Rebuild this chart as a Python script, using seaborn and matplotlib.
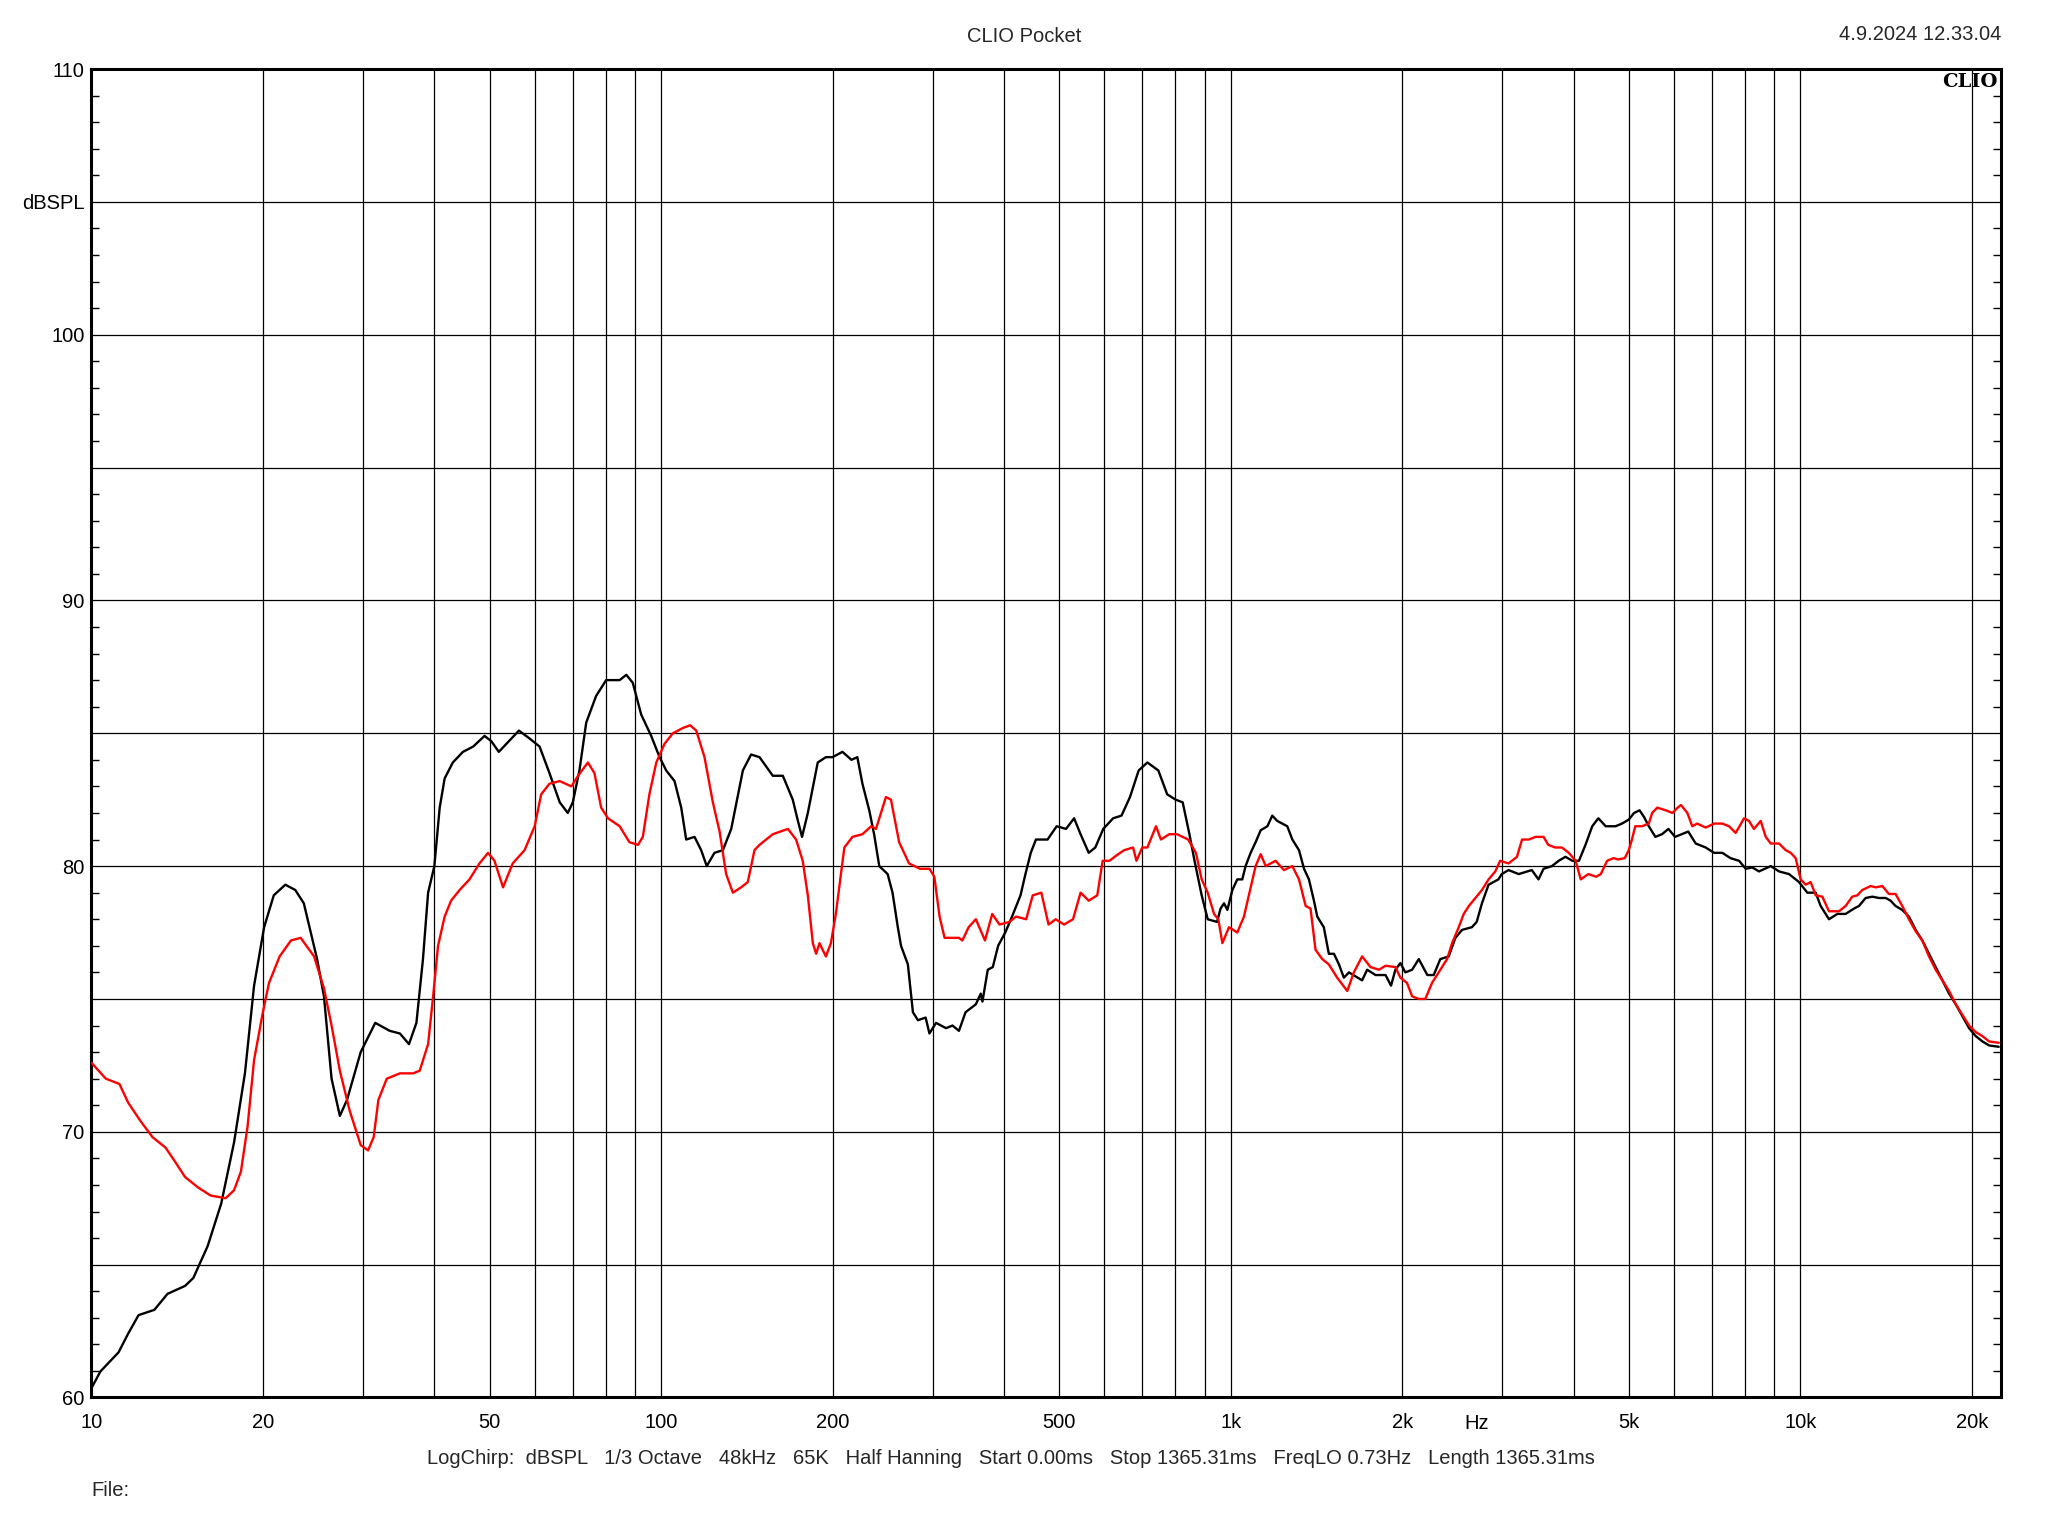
import numpy as np
import pandas as pd
import matplotlib
matplotlib.use("Agg")
import matplotlib.pyplot as plt
import seaborn as sns

# ---------------- data ----------------
black_freq = [10, 10.37, 11.16, 11.6, 12.1, 12.9, 13.6, 14.6, 15.1, 16.0, 16.9, 17.8, 18.6, 19.3, 20.1, 20.9,
              21.9, 22.8, 23.6, 24.9, 25.6, 26.4, 27.3, 28.1, 29.7, 31.5, 33.4, 34.8, 36.1, 37.2, 38.2, 39.0,
              40.0, 40.87, 41.7, 43.1, 44.9, 46.8, 49.0, 50.36, 51.9, 53.5, 56.3, 58.8, 61.2, 63.7, 66.4, 68.6,
              70.0, 71.9, 73.9, 76.9, 80.1, 84.6, 86.9, 89.2, 92.3, 96.1, 99.4, 102.1, 105.6, 108.5, 110.7,
              114.5, 117.6, 120.3, 124.1, 128.4, 132.8, 139.2, 143.9, 148.9, 157.1, 163.6, 170.3, 173.9, 176.8,
              181.0, 188.4, 194.7, 200, 208.2, 215.9, 221.1, 225.7, 232.0, 236.6, 241.6, 249.9, 254.9, 260.4,
              263.8, 271.2, 276.8, 282.5, 291.4, 295.9, 303.9, 316.5, 324.8, 333.4, 342.4, 357.0, 364.1, 366.6,
              374.6, 382.3, 390.6, 402.0, 413.2, 427.6, 436.2, 445.7, 455.1, 477.0, 494.9, 514.0, 531.0, 545.1,
              563.4, 578.5, 597.5, 621.8, 643.2, 665.6, 689.4, 714.1, 746.4, 773.6, 800.7, 823.6, 846.4, 864.0,
              889.4, 911.3, 946.4, 959.8, 973.5, 986.6, 1006.8, 1027, 1048, 1062, 1084, 1106, 1129, 1160, 1183,
              1207, 1257, 1283, 1318, 1345, 1372, 1400, 1419, 1457, 1487, 1518, 1549, 1580, 1613, 1657, 1701,
              1736, 1796, 1870, 1912, 1946, 1986, 2026, 2082, 2139, 2214, 2272, 2333, 2414, 2480, 2548, 2651,
              2703, 2761, 2836, 2951, 2991, 3075, 3203, 3378, 3470, 3542, 3664, 3765, 3870, 3979, 4087, 4196,
              4312, 4420, 4553, 4737, 4863, 4998, 5106, 5221, 5316, 5420, 5566, 5716, 5868, 6026, 6188, 6357,
              6551, 6822, 7055, 7295, 7540, 7807, 8019, 8234, 8461, 8874, 9175, 9554, 9946, 10287, 10640,
              10855, 11228, 11612, 12009, 12420, 12675, 13020, 13377, 13742, 14118, 14402, 14695, 15098,
              15513, 15938, 16374, 16822, 17283, 17757, 18243, 18742, 19255, 19782, 20324, 20880, 21452, 22300]
black_db = [60.35, 60.98, 61.7, 62.4, 63.1, 63.3, 63.9, 64.2, 64.5, 65.7, 67.3, 69.6, 72.2, 75.5, 77.7, 78.9,
            79.3, 79.1, 78.6, 76.5, 75.1, 72.0, 70.6, 71.2, 73.0, 74.1, 73.8, 73.7, 73.3, 74.1, 76.5, 79.0,
            80.0, 82.2, 83.3, 83.9, 84.3, 84.5, 84.9, 84.7, 84.3, 84.6, 85.1, 84.8, 84.5, 83.5, 82.4, 82.0,
            82.4, 83.6, 85.4, 86.4, 87.0, 87.0, 87.2, 86.9, 85.7, 84.9, 84.1, 83.6, 83.2, 82.2, 81.0,
            81.1, 80.6, 80.0, 80.5, 80.6, 81.4, 83.6, 84.2, 84.1, 83.4, 83.4, 82.5, 81.7, 81.1,
            82.0, 83.9, 84.1, 84.1, 84.3, 84.0, 84.1, 83.1, 82.1, 81.2, 80.0, 79.7, 79.0, 77.7,
            77.0, 76.3, 74.5, 74.2, 74.3, 73.7, 74.1, 73.9, 74.0, 73.8, 74.5, 74.8, 75.2, 74.9,
            76.1, 76.2, 77.0, 77.5, 78.1, 78.9, 79.7, 80.5, 81.0, 81.0, 81.5, 81.4, 81.8, 81.2,
            80.5, 80.7, 81.4, 81.8, 81.9, 82.6, 83.6, 83.9, 83.6, 82.7, 82.5, 82.4, 81.2, 80.2,
            78.9, 78.0, 77.9, 78.4, 78.6, 78.35, 79.1, 79.5, 79.5, 80.0, 80.5, 80.9, 81.35, 81.5, 81.9,
            81.7, 81.5, 81.0, 80.6, 79.9, 79.5, 78.7, 78.1, 77.7, 76.7, 76.7, 76.3, 75.8, 76.0, 75.85, 75.7,
            76.1, 75.9, 75.9, 75.5, 76.1, 76.35, 76.0, 76.1, 76.5, 75.9, 75.9, 76.5, 76.6, 77.3, 77.6, 77.7,
            77.9, 78.6, 79.3, 79.5, 79.7, 79.85, 79.7, 79.85, 79.5, 79.9, 80.0, 80.2, 80.35, 80.2, 80.2, 80.8,
            81.5, 81.8, 81.5, 81.5, 81.6, 81.75, 82.0, 82.1, 81.85, 81.5, 81.1, 81.2, 81.4, 81.1, 81.2, 81.3,
            80.85, 80.7, 80.5, 80.5, 80.3, 80.2, 79.9, 79.95, 79.8, 80.0, 79.8, 79.7, 79.4, 79.0, 79.0,
            78.5, 78.0, 78.2, 78.2, 78.4, 78.5, 78.8, 78.85, 78.8, 78.8, 78.7, 78.5, 78.35,
            78.1, 77.6, 77.2, 76.7, 76.2, 75.7, 75.2, 74.8, 74.35, 73.9, 73.6, 73.4, 73.25, 73.2]

red_freq = [10, 10.6, 11.2, 11.6, 12.2, 12.8, 13.5, 14.0, 14.6, 15.4, 16.2, 17.2, 17.8, 18.3, 18.8, 19.3,
            20.0, 20.5, 21.4, 22.4, 23.3, 24.6, 25.6, 26.4, 27.3, 28.4, 29.7, 30.6, 31.3, 31.9, 33.0, 34.8,
            36.7, 37.7, 39.0, 39.8, 40.6, 41.7, 42.8, 44.3, 46.1, 48.0, 49.7, 51.0, 52.8, 54.9, 57.6, 60.0,
            61.6, 63.7, 66.4, 69.6, 71.5, 74.4, 76.4, 78.5, 80.7, 84.6, 88.0, 91.1, 92.9, 95.4, 98.1, 101.4,
            104.9, 109.3, 112.5, 115.3, 119.2, 123.3, 126.7, 130.1, 133.7, 138.2, 142.0, 145.9, 148.9, 157.1,
            167.0, 172.6, 177.3, 181.0, 184.7, 187.2, 189.7, 194.7, 198.7, 202.7, 209.8, 216.8, 225.7, 233.9,
            238.4, 248.2, 253.3, 261.8, 272.5, 284.8, 295.9, 301.8, 308.3, 314.6, 324.8, 333.4, 338.0, 346.7,
            357.0, 370.4, 381.4, 392.8, 408.8, 420.0, 437.5, 449.3, 465.2, 478.9, 493.0, 509.9, 528.7, 545.1,
            563.4, 583.2, 596.0, 612.6, 630.0, 650.1, 674.0, 683.3, 699.4, 714.1, 739.3, 754.4, 779.7, 805.2,
            842.0, 868.9, 889.4, 911.3, 934.9, 951.2, 967, 993, 1027, 1055, 1084, 1106, 1129, 1152, 1199,
            1240, 1283, 1318, 1354, 1381, 1409, 1448, 1487, 1538, 1602, 1645, 1701, 1760, 1821, 1870, 1946,
            1986, 2040, 2082, 2139, 2196, 2256, 2318, 2398, 2447, 2514, 2565, 2619, 2689, 2761, 2836, 2914,
            2972, 3075, 3181, 3247, 3337, 3429, 3542, 3610, 3711, 3815, 3922, 4032, 4117, 4244, 4380, 4464,
            4580, 4700, 4786, 4918, 4998, 5063, 5131, 5271, 5420, 5494, 5608, 5804, 5963, 6091, 6172, 6334,
            6461, 6591, 6822, 7055, 7295, 7496, 7700, 7966, 8125, 8290, 8520, 8695, 8874, 9175, 9425, 9617,
            9813, 10014, 10218, 10426, 10640, 10929, 11228, 11691, 12009, 12335, 12590, 12848, 13287, 13560,
            13930, 14306, 14695, 15098, 15513, 15938, 16374, 16822, 17283, 17757, 18243, 18742, 19255, 19782,
            20324, 20880, 21452, 22300]
red_db = [72.6, 72.0, 71.8, 71.1, 70.4, 69.8, 69.4, 68.9, 68.3, 67.9, 67.6, 67.5, 67.8, 68.5, 70.2, 72.7,
          74.5, 75.6, 76.6, 77.2, 77.3, 76.6, 75.4, 74.0, 72.3, 70.8, 69.5, 69.3, 69.8, 71.2, 72.0, 72.2,
          72.2, 72.3, 73.3, 75.1, 77.0, 78.1, 78.7, 79.1, 79.5, 80.1, 80.5, 80.2, 79.2, 80.1, 80.6, 81.5,
          82.7, 83.1, 83.2, 83.0, 83.4, 83.9, 83.5, 82.2, 81.8, 81.5, 80.9, 80.8, 81.1, 82.7, 83.9, 84.6,
          85.0, 85.2, 85.3, 85.1, 84.1, 82.4, 81.3, 79.7, 79.0, 79.2, 79.4, 80.6, 80.8, 81.2,
          81.4, 81.0, 80.2, 78.9, 77.1, 76.7, 77.1, 76.6, 77.1, 78.2, 80.7, 81.1, 81.2, 81.5,
          81.4, 82.6, 82.5, 80.9, 80.1, 79.9, 79.9, 79.6, 78.1, 77.3, 77.3, 77.3, 77.2, 77.7,
          78.0, 77.2, 78.2, 77.8, 77.9, 78.1, 78.0, 78.9, 79.0, 77.8, 78.0, 77.8, 78.0, 79.0,
          78.7, 78.9, 80.2, 80.2, 80.4, 80.6, 80.7, 80.2, 80.7, 80.7, 81.5, 81.0, 81.2, 81.2,
          81.0, 80.5, 79.5, 79.0, 78.2, 78.0, 77.1, 77.7, 77.5, 78.1, 79.2, 80.0, 80.45, 80.0, 80.2,
          79.85, 80.0, 79.5, 78.5, 78.4, 76.85, 76.5, 76.3, 75.8, 75.3, 76.0, 76.6, 76.2, 76.1, 76.25, 76.2,
          75.8, 75.6, 75.1, 75.0, 75.0, 75.6, 76.0, 76.5, 77.1, 77.7, 78.2, 78.5, 78.8, 79.1, 79.5, 79.8,
          80.2, 80.1, 80.35, 81.0, 81.0, 81.1, 81.1, 80.8, 80.7, 80.7, 80.5, 80.2, 79.5, 79.7, 79.6, 79.7,
          80.2, 80.3, 80.25, 80.3, 80.6, 81.0, 81.5, 81.5, 81.6, 82.0, 82.2, 82.1, 82.0, 82.2, 82.3, 82.0,
          81.5, 81.6, 81.45, 81.6, 81.6, 81.5, 81.25, 81.8, 81.7, 81.4, 81.7, 81.1, 80.85, 80.85, 80.6, 80.5,
          80.3, 79.5, 79.3, 79.4, 78.9, 78.85, 78.3, 78.3, 78.5, 78.85, 78.9, 79.1, 79.25, 79.2,
          79.25, 78.95, 78.95, 78.5, 78.0, 77.55, 77.2, 76.6, 76.1, 75.7, 75.3, 74.8, 74.4, 74.0,
          73.75, 73.6, 73.4, 73.35]

x_tick_values = [10, 20, 50, 100, 200, 500, 1000, 2000, 5000, 10000, 20000]
x_tick_labels = ["10", "20", "50", "100", "200", "500", "1k", "2k", "5k", "10k", "20k"]
grid_freqs = [20, 30, 40, 50, 60, 70, 80, 90, 100, 200, 300, 400, 500, 600, 700, 800, 900,
              1000, 2000, 3000, 4000, 5000, 6000, 7000, 8000, 9000, 10000, 20000]
y_tick_values = [60, 65, 70, 75, 80, 85, 90, 95, 100, 105, 110]
y_tick_labels = ["60", "", "70", "", "80", "", "90", "", "100", "dBSPL", "110"]

title_text = "CLIO Pocket"
date_text = "4.9.2024 12.33.04"
info_text = ("LogChirp:  dBSPL   1/3 Octave   48kHz   65K   Half Hanning   Start 0.00ms   "
             "Stop 1365.31ms   FreqLO 0.73Hz   Length 1365.31ms")
file_text = "File:"

# ---------------- plotting ----------------
sns.set_theme(style="white")
plt.rcParams["font.family"] = ["Liberation Sans", "DejaVu Sans"]
FS = 14.5

fig = plt.figure(figsize=(20.48, 15.36), dpi=100)
fig.patch.set_facecolor("white")
ax = fig.add_axes([0.04463, 0.09017, 0.9324, 0.8649])
ax.set_facecolor("white")

df_black = pd.DataFrame({"freq": black_freq, "db": black_db})
df_red = pd.DataFrame({"freq": red_freq, "db": red_db})

sns.lineplot(data=df_black, x="freq", y="db", color="black", lw=1.7, ax=ax,
             estimator=None, sort=False, zorder=3)
sns.lineplot(data=df_red, x="freq", y="db", color="#ff0000", lw=1.7, ax=ax,
             estimator=None, sort=False, zorder=4)

ax.set_xscale("log")
ax.set_xlim(10, 22500)
ax.set_ylim(60, 110)
ax.set_xlabel("")
ax.set_ylabel("")

# vertical grid
for f in grid_freqs:
    ax.axvline(f, color="black", lw=0.9, zorder=1)
# horizontal grid
for v in y_tick_values[1:-1]:
    ax.axhline(v, color="black", lw=0.9, zorder=1)

ax.set_xticks(x_tick_values)
ax.set_xticklabels(x_tick_labels)
ax.xaxis.set_minor_locator(matplotlib.ticker.NullLocator())
ax.tick_params(axis="x", which="major", length=0, pad=11, labelsize=FS, colors="black")

ax.set_yticks(y_tick_values)
ax.set_yticklabels(y_tick_labels)
ax.set_yticks(np.arange(60, 111, 1), minor=True)
ax.tick_params(axis="y", which="major", length=0, pad=5, labelsize=FS, colors="black")
ax.tick_params(axis="y", which="minor", direction="in", length=6, width=1.0,
               left=True, right=True, color="black")

for s in ax.spines.values():
    s.set_visible(True)
    s.set_color("black")
    s.set_linewidth(2.2)

# Hz label among the x tick labels
ax.text(0.7257, -0.0125, "Hz", transform=ax.transAxes, ha="center", va="top",
        fontsize=FS, color="black")

# CLIO logo inside top-right
ax.text(0.998, 0.997, "CLIO", transform=ax.transAxes, ha="right", va="top",
        fontsize=14, fontweight="bold", family=["DejaVu Serif"], color="black", zorder=5)

fig.text(0.5, 1 - 37 / 1536, title_text, ha="center", va="center", fontsize=FS)
fig.text(2001 / 2048, 1 - 35 / 1536, date_text, ha="right", va="center", fontsize=FS)
fig.text(1011 / 2048, 1 - 1458 / 1536, info_text, ha="center", va="center", fontsize=FS)
fig.text(91 / 2048, 1 - 1491 / 1536, file_text, ha="left", va="center", fontsize=FS)

fig.savefig("out.png", dpi=100, facecolor="white")
